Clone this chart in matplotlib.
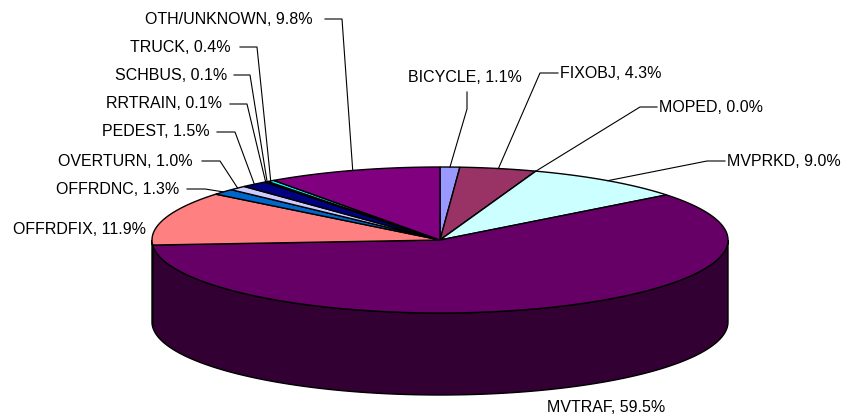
import numpy as np
import matplotlib
matplotlib.use("Agg")
import matplotlib.pyplot as plt
from matplotlib.patches import Polygon
from matplotlib.colors import to_rgb

plt.rcParams['font.family'] = ['Liberation Sans', 'DejaVu Sans']

# crash types and their share (%), clockwise from 12 o'clock
names = ["BICYCLE", "FIXOBJ", "MOPED", "MVPRKD", "MVTRAF", "OFFRDFIX", "OFFRDNC",
         "OVERTURN", "PEDEST", "RRTRAIN", "SCHBUS", "TRUCK", "OTH/UNKNOWN"]
shares = [1.1, 4.3, 0.0, 9.0, 59.5, 11.9, 1.3, 1.0, 1.5, 0.1, 0.1, 0.4, 9.8]
colors = ["#9999FF", "#993366", "#FFFFCC", "#CCFFFF", "#660066", "#FF8080", "#0066CC",
          "#CCCCFF", "#000080", "#FF00FF", "#FFFF00", "#00FFFF", "#800080"]

# label layout (pixel space): text x, text y, alignment, elbow x0, elbow x1
label_pos = {
    "BICYCLE":     (465, 78, "center", None, None),
    "FIXOBJ":      (560, 73, "left", 558, 540),
    "MOPED":       (659, 107, "left", 657, 640),
    "MVPRKD":      (727, 161, "left", 725, 707),
    "MVTRAF":      (547, 407, "left", None, None),
    "OFFRDFIX":    (146, 229, "right", None, None),
    "OFFRDNC":     (179, 189, "right", 187, 205),
    "OVERTURN":    (193, 161, "right", 202, 220),
    "PEDEST":      (210, 132, "right", 217, 235),
    "RRTRAIN":     (222, 104, "right", 230, 247),
    "SCHBUS":      (227, 75, "right", 234, 250),
    "TRUCK":       (231, 47, "right", 240, 257),
    "OTH/UNKNOWN": (313, 19, "right", 325, 342),
}

# pie geometry in pixels
cx, cy, rx, ry, depth = 440, 240, 288, 73, 82

def pt(theta):
    # theta in degrees, clockwise from top
    t = np.radians(theta)
    return cx + rx * np.sin(t), cy - ry * np.cos(t)

def darker(c, f=0.5):
    r, g, b = to_rgb(c)
    return (r * f, g * f, b * f)

fig = plt.figure(figsize=(8.45, 4.16), dpi=100)
ax = fig.add_axes([0, 0, 1, 1])
ax.set_xlim(0, 845)
ax.set_ylim(416, 0)
ax.axis("off")

bounds = np.concatenate([[0], np.cumsum(shares)]) / sum(shares) * 360

# side walls (front half only, theta 90..270)
for i in range(len(shares)):
    a, b = max(bounds[i], 90), min(bounds[i + 1], 270)
    if b <= a:
        continue
    th = np.linspace(a, b, 120)
    xs, ys = pt(th)
    verts = list(zip(xs, ys)) + list(zip(xs[::-1], ys[::-1] + depth))
    ax.add_patch(Polygon(verts, closed=True, fc=darker(colors[i]), ec="black", lw=1.0, zorder=1))

# top faces
for i in range(len(shares)):
    a, b = bounds[i], bounds[i + 1]
    th = np.linspace(a, b, max(int((b - a) * 2), 2))
    xs, ys = pt(th)
    verts = [(cx, cy)] + list(zip(xs, ys))
    ax.add_patch(Polygon(verts, closed=True, fc=colors[i], ec="black", lw=1.0, zorder=2))

# labels and leader lines
for i, name in enumerate(names):
    tx, ty, ha, x0, x1 = label_pos[name]
    ax.text(tx, ty, f"{name}, {shares[i]:.1f}%", ha=ha, va="center", fontsize=11.5, color="black", zorder=5)
    mid = (bounds[i] + bounds[i + 1]) / 2
    axp, ayp = pt(mid)
    if x0 is not None:
        ax.plot([x0, x1, axp], [ty, ty, ayp], color="black", lw=0.8, zorder=4)
    elif name == "BICYCLE":
        ax.plot([467, 467, axp], [92, 109, ayp], color="black", lw=0.8, zorder=4)

fig.savefig("out.png", dpi=100)
